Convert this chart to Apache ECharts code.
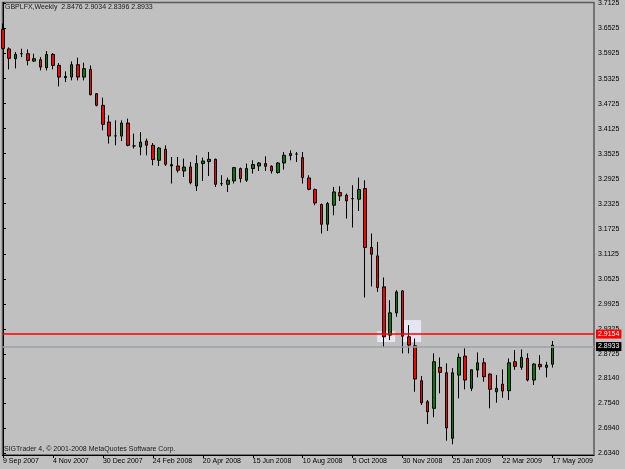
<!DOCTYPE html>
<html><head><meta charset="utf-8">
<script src="https://cdn.jsdelivr.net/npm/echarts@6/dist/echarts.min.js"></script>
<style>html,body{margin:0;padding:0;background:#c0c0c0}#c{width:625px;height:469px}</style>
</head><body><div id="c"></div>
<script>
// Week tick labels (every 8 weeks) and their bar indices
const dateLabels = ['9 Sep 2007','4 Nov 2007','30 Dec 2007','24 Feb 2008','20 Apr 2008','15 Jun 2008','10 Aug 2008','5 Oct 2008','30 Nov 2008','25 Jan 2009','22 Mar 2009','17 May 2009'];
const dateLabelIdx = [0,8,16,24,32,40,48,56,64,72,80,88];
// Price tick labels
const priceTicks = [3.7125,3.6525,3.5925,3.5325,3.4725,3.4125,3.3525,3.2925,3.2325,3.1725,3.1125,3.0525,2.9925,2.9325,2.8725,2.8140,2.7540,2.6940,2.6340];

const opens = [3.6503,3.6036,3.5802,3.5921,3.5921,3.5744,3.5778,3.5586,3.5905,3.5641,
3.5347,3.5361,3.5658,3.5361,3.5545,3.4963,3.4683,3.4283,3.3950,3.3948,
3.4259,3.3710,3.3684,3.3828,3.3725,3.3366,3.3629,3.3263,3.3229,3.3109,
3.3205,3.2750,3.3287,3.3335,3.3390,3.2805,3.2791,3.2870,3.3167,3.2887,
3.3167,3.3229,3.3287,3.3222,3.3071,3.3301,3.3478,3.3515,3.3430,3.2942,
3.2664,3.2305,3.1833,3.2288,3.2592,3.2528,3.2446,3.2432,3.2688,3.1275,
3.1074,3.0331,2.9174,2.9708,3.0235,2.9134,2.8918,2.8080,2.7577,2.7419,
2.8401,2.8271,2.6700,2.8216,2.8672,2.7898,2.8336,2.8511,2.8240,2.7816,
2.8001,2.7840,2.8535,2.8401,2.8616,2.8097,2.8473,2.8401,2.8476];
const highs = [3.6647,3.6072,3.5960,3.6041,3.6024,3.5921,3.5840,3.5984,3.5936,3.5696,
3.5497,3.5737,3.5826,3.5706,3.5641,3.4971,3.4867,3.4444,3.4324,3.4324,
3.4365,3.4005,3.4044,3.3886,3.3780,3.3684,3.3725,3.3445,3.3445,3.3406,
3.3325,3.3486,3.3430,3.3565,3.3406,3.3007,3.2951,3.3205,3.3191,3.3287,
3.3366,3.3325,3.3462,3.3246,3.3325,3.3565,3.3605,3.3565,3.3565,3.3007,
3.2688,3.2329,3.2367,3.2726,3.2743,3.2568,3.2767,3.2951,3.2887,3.1610,
3.1409,3.0556,3.0013,3.0252,3.0252,2.9414,2.9095,2.8192,2.7618,2.8736,
2.8640,2.8497,2.8384,2.8736,2.8856,2.8353,2.8760,2.8623,2.8257,2.8216,
2.8353,2.8616,2.8815,2.8832,2.8736,2.8497,2.8695,2.8535,2.9034];
const lows = [3.6024,3.5545,3.5569,3.5840,3.5641,3.5720,3.5521,3.5521,3.5545,3.5138,
3.5241,3.5282,3.5282,3.5282,3.4923,3.4659,3.4084,3.3766,3.3725,3.3828,
3.3701,3.3646,3.3486,3.3486,3.3246,3.3229,3.3229,3.2808,3.3071,3.2966,
3.2791,3.2630,3.2870,3.2990,3.2726,3.2750,3.2607,3.2808,3.2832,3.2846,
3.3047,3.3109,3.3109,3.3047,3.3047,3.3143,3.3366,3.3325,3.2808,3.2647,
3.2288,3.1610,3.1672,3.2048,3.2391,3.1969,3.1754,3.2151,3.0077,3.0341,
3.0211,2.8880,2.9055,2.9613,2.8736,2.8736,2.7816,2.7498,2.7043,2.7203,
2.7778,2.6643,2.6557,2.7658,2.7874,2.7833,2.8161,2.8056,2.7419,2.7553,
2.7673,2.7618,2.8343,2.8343,2.8066,2.7977,2.8343,2.8161,2.8396];
const closes = [3.6048,3.5809,3.5905,3.5921,3.5761,3.5802,3.5600,3.5905,3.5641,3.5361,
3.5378,3.5658,3.5361,3.5562,3.4939,3.4683,3.4228,3.3948,3.3950,3.4259,
3.3725,3.3710,3.3804,3.3725,3.3383,3.3660,3.3270,3.3229,3.3126,3.3205,
3.2832,3.3287,3.3349,3.3390,3.2791,3.2805,3.2887,3.3191,3.2927,3.3167,
3.3263,3.3301,3.3222,3.3109,3.3301,3.3486,3.3526,3.3515,3.2951,3.2671,
3.2343,3.1833,3.2329,3.2607,3.2511,3.2391,3.2446,3.2664,3.1275,3.1114,
3.0317,2.9134,2.9708,3.0211,2.9150,2.8935,2.8121,2.7553,2.7337,2.8535,
2.8281,2.6947,2.8271,2.8640,2.8097,2.8343,2.8511,2.8176,2.7874,2.7898,
2.7833,2.8511,2.8425,2.8640,2.8097,2.8480,2.8415,2.8456,2.8933];

const symbolName = 'GBPLFX,Weekly';
const redLevel = 2.9154;
const bidLevel = 2.8933;
// highlighted rectangles: [fromBar, toBar, lowPrice, highPrice]
const highlightBoxes = [[59.92, 62.8, 2.9007, 2.9270], [64.1, 66.96, 2.9007, 2.9534]];

const last = opens.length - 1;
const headerText = symbolName + '  ' + [opens[last], highs[last], lows[last], closes[last]].map(v => v.toFixed(4)).join(' ');
const candleData = opens.map((o, i) => [i, o, closes[i], lows[i], highs[i]]);

const FONT = 'Liberation Sans';
const chart = echarts.init(document.getElementById('c'), null, {renderer: 'canvas'});
chart.setOption({
  animation: false,
  backgroundColor: '#c0c0c0',
  title: [
    {text: headerText, left: 5, top: 4, padding: 0,
     textStyle: {fontSize: 7, fontWeight: 'normal', color: '#1a1a1a', fontFamily: FONT}},
    {text: 'SIGTrader 4, \u00a9 2001-2008 MetaQuotes Software Corp.', left: 4, top: 446, padding: 0,
     textStyle: {fontSize: 7, fontWeight: 'normal', color: '#1a1a1a', fontFamily: FONT}}
  ],
  grid: {left: 2, top: 2, right: 31, bottom: 14, show: true, borderColor: '#5a5a5a', borderWidth: 1.5, backgroundColor: 'transparent'},
  xAxis: {
    type: 'value', min: -0.08, max: 94.64,
    axisLine: {show: true, lineStyle: {color: '#000', width: 1}},
    axisTick: {show: true, customValues: dateLabelIdx, length: 3, lineStyle: {color: '#000'}},
    axisLabel: {customValues: dateLabelIdx, align: 'left', margin: 3, fontSize: 7, color: '#000', fontFamily: FONT,
      formatter: v => dateLabels[dateLabelIdx.indexOf(Math.round(v))] || ''},
    splitLine: {show: false}
  },
  yAxis: {
    type: 'value', position: 'right', min: 2.63, max: 3.715,
    axisLine: {show: true, lineStyle: {color: '#000', width: 1}},
    axisTick: {show: true, customValues: priceTicks, length: 3, lineStyle: {color: '#000'}},
    axisLabel: {customValues: priceTicks, margin: 4, fontSize: 7, color: '#000', fontFamily: FONT,
      formatter: v => v.toFixed(4)},
    splitLine: {show: false}
  },
  series: [
    {type: 'line', data: [], z: 1, silent: true,
     markArea: {silent: true, itemStyle: {color: 'rgba(236,236,252,0.85)'},
       data: highlightBoxes.map(b => [{xAxis: b[0], yAxis: b[3]}, {xAxis: b[1], yAxis: b[2]}])}},
    {type: 'candlestick', data: candleData, encode: {x: 0, y: [1, 2, 3, 4]}, z: 2, barWidth: 3,
     itemStyle: {color: '#008000', color0: '#ff0000', borderColor: '#000', borderColor0: '#000', borderColorDoji: '#000', borderWidth: 1}},
    {type: 'line', data: [], z: 3, silent: true,
     markLine: {symbol: ['none', 'none'], silent: true, animation: false,
       data: [
         {yAxis: redLevel, lineStyle: {color: '#ff0000', width: 1.5, type: 'solid'},
          label: {show: true, position: 'end', distance: 2, formatter: redLevel.toFixed(4), color: '#fff', backgroundColor: '#ff0000', padding: [1, 2, 1, 2], fontSize: 7, fontFamily: FONT}},
         {yAxis: bidLevel, lineStyle: {color: '#9ea2a6', width: 1.5, type: 'solid'},
          label: {show: true, position: 'end', distance: 2, formatter: bidLevel.toFixed(4), color: '#fff', backgroundColor: '#000', padding: [1, 2, 1, 2], fontSize: 7, fontFamily: FONT}}
       ]}}
  ]
});
</script></body></html>
